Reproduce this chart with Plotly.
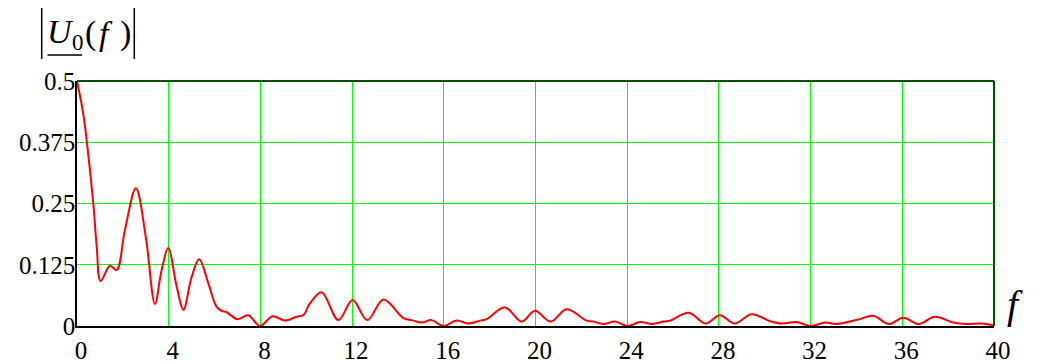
import plotly.graph_objects as go

# Spectrum magnitude |U0(f)| sampled at turning points of the curve
f_vals = [0, 0.27, 0.42, 0.71, 0.86, 1.03, 1.44, 1.73, 2.09, 2.57, 3.0, 3.40, 3.69,
          3.98, 4.35, 4.64, 5.0, 5.33, 5.73, 6.09, 6.31, 6.53, 7.0, 7.47, 7.98, 8.53,
          9.07, 9.58, 9.87, 10.16, 10.67, 11.40, 12.02, 12.66, 13.37, 14.24, 14.60,
          15.03, 15.47, 15.98, 16.56, 17.07, 17.58, 17.87, 18.67, 19.40, 19.98, 20.66,
          21.36, 22.23, 22.52, 22.95, 23.47, 24.02, 24.57, 25.08, 25.59, 25.88, 26.68,
          27.42, 28.05, 28.68, 29.43, 30.23, 30.74, 31.39, 31.98, 32.63, 33.10, 33.71,
          34.15, 34.73, 35.42, 36.04, 36.72, 37.42, 38.22, 38.80, 39.45, 40]
u_vals = [0.5, 0.434, 0.38, 0.25, 0.162, 0.092, 0.123, 0.114, 0.196, 0.281, 0.182, 0.045,
          0.114, 0.159, 0.080, 0.033, 0.10, 0.136, 0.087, 0.039, 0.031, 0.028, 0.014,
          0.022, 0.0, 0.020, 0.011, 0.019, 0.022, 0.046, 0.069, 0.012, 0.053, 0.012,
          0.054, 0.016, 0.012, 0.007, 0.012, 0.0, 0.011, 0.005, 0.011, 0.014, 0.038,
          0.009, 0.031, 0.009, 0.034, 0.011, 0.009, 0.004, 0.009, 0.0, 0.008, 0.004,
          0.009, 0.011, 0.027, 0.005, 0.022, 0.005, 0.024, 0.010, 0.005, 0.008, 0.0,
          0.007, 0.004, 0.009, 0.014, 0.021, 0.004, 0.017, 0.004, 0.019, 0.007, 0.004,
          0.005, 0.001]

x_ticks = [0, 4, 8, 12, 16, 20, 24, 28, 32, 36, 40]
y_ticks = [0, 0.125, 0.25, 0.375, 0.5]
y_tick_text = ["0", "0.125", "0.25", "0.375", "0.5"]

SERIF = "Liberation Serif, Times New Roman, serif"
GRID = "#00ff00"
FRAME = "#005000"
TICK_FONT = dict(family=SERIF, size=25, color="black")

fig = go.Figure()
fig.add_trace(go.Scatter(
    x=f_vals, y=u_vals, mode="lines",
    line=dict(color="#ff0000", width=2, shape="spline", smoothing=1.0),
    hoverinfo="skip", showlegend=False,
))

fig.update_layout(
    width=1039, height=363,
    margin=dict(l=77, r=45, t=81, b=37, autoexpand=False),
    paper_bgcolor="white", plot_bgcolor="white",
    font=dict(family=SERIF, size=25, color="black"),
    xaxis=dict(range=[0, 40], tickvals=x_ticks, ticktext=[str(v) for v in x_ticks],
               showgrid=True, gridcolor=GRID, gridwidth=1, zeroline=False,
               showline=True, linecolor="black", linewidth=1.5, ticks="",
               ticklabelshift=4, ticklabelstandoff=1, automargin=False,
               tickfont=TICK_FONT),
    yaxis=dict(range=[0, 0.5], tickvals=y_ticks, ticktext=y_tick_text,
               showgrid=True, gridcolor=GRID, gridwidth=1, zeroline=False,
               showline=True, linecolor="black", linewidth=1.5, ticks="",
               ticklabelstandoff=-5, automargin=False,
               tickfont=TICK_FONT),
)

# dark-green top and right frame
fig.add_shape(type="line", xref="paper", yref="paper", x0=0, x1=1, y0=1, y1=1,
              line=dict(color=FRAME, width=2))
fig.add_shape(type="line", xref="paper", yref="paper", x0=1, x1=1, y0=0, y1=1,
              line=dict(color=FRAME, width=2))


def px_x(p):
    return (p - 77) / 917.0


def px_y(p):
    return (326 - p) / 245.0


# |U0(f)| axis caption: magnitude bars and underline drawn as lines
for bx in (41.7, 134.3):
    fig.add_shape(type="line", xref="paper", yref="paper",
                  x0=px_x(bx), x1=px_x(bx), y0=px_y(8), y1=px_y(59),
                  line=dict(color="black", width=1.5))
fig.add_shape(type="line", xref="paper", yref="paper",
              x0=px_x(47.5), x1=px_x(82), y0=px_y(55), y1=px_y(55),
              line=dict(color="black", width=1.5))

caption_parts = [
    ("<i>U</i>", 45.5, 31, 34),
    ("0", 70.5, 42, 23),
    ("(", 84, 33, 34),
    ("<i>f</i>", 98, 33, 34),
    (")", 119, 33, 34),
]
for txt, x_left, y_mid, size in caption_parts:
    fig.add_annotation(xref="paper", yref="paper", x=px_x(x_left), y=px_y(y_mid),
                       xanchor="left", yanchor="middle", showarrow=False,
                       text=txt, borderpad=0,
                       font=dict(family=SERIF, size=size, color="black"))

fig.add_annotation(xref="paper", yref="paper", x=px_x(1015), y=px_y(304),
                   xanchor="center", yanchor="middle", showarrow=False,
                   text="<i>f</i>", font=dict(family=SERIF, size=40, color="black"))

fig.write_html("out.html")
